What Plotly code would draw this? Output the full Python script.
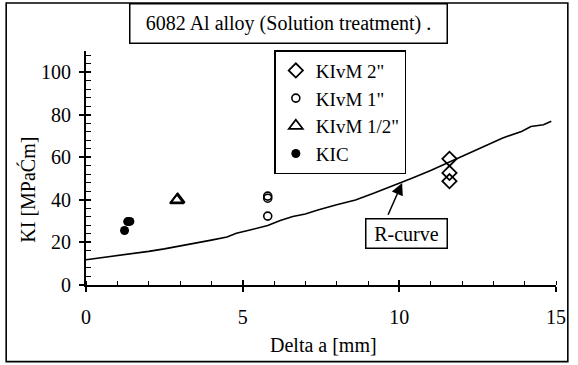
import plotly.graph_objects as go

# Data
rcurve_x = [0, 0.5, 1, 1.5, 2, 2.5, 3, 3.5, 4, 4.5, 4.8, 5.2, 5.8, 6.2, 6.6, 7, 7.4, 8,
            8.6, 9.2, 9.8, 10.4, 11, 11.6, 12.2, 12.8, 13.3, 13.9, 14.2, 14.6, 14.85]
rcurve_y = [11.9, 12.8, 13.8, 14.7, 15.8, 17, 18.3, 19.7, 21.1, 22.6, 24.3, 25.7, 28, 30.3,
            32.2, 33.4, 35.3, 37.7, 40, 43.2, 46.6, 50.2, 53.8, 57.8, 61.8, 65.8, 69.1,
            72.2, 74.5, 75.3, 77]

kivm2_x = [11.6, 11.6, 11.6]
kivm2_y = [59.3, 52.7, 48.8]
kivm1_x = [5.8, 5.8, 5.8]
kivm1_y = [41.8, 40.8, 32.4]
kivm12_x = [2.9, 2.93]
kivm12_y = [39.8, 40.2]
kic_x = [1.23, 1.33, 1.4]
kic_y = [25.6, 29.8, 29.9]

title_text = "6082 Al alloy (Solution treatment) ."
x_title = "Delta a [mm]"
y_title = "KI [MPaĆm]"
x_ticks = [0, 5, 10, 15]
y_ticks = [0, 20, 40, 60, 80, 100]

FONT = "Liberation Serif"
FS = 20

fig = go.Figure()
fig.add_trace(go.Scatter(x=rcurve_x, y=rcurve_y, mode="lines",
                         line=dict(color="black", width=1.6), showlegend=False))
fig.add_trace(go.Scatter(x=kivm2_x, y=kivm2_y, mode="markers", name='KIvM 2"',
                         marker=dict(symbol="diamond-open", size=11, color="black",
                                     line=dict(width=1.8, color="black"))))
fig.add_trace(go.Scatter(x=kivm1_x, y=kivm1_y, mode="markers", name='KIvM 1"',
                         marker=dict(symbol="circle-open", size=8, color="black",
                                     line=dict(width=1.6, color="black"))))
fig.add_trace(go.Scatter(x=kivm12_x, y=kivm12_y, mode="markers", name='KIvM 1/2"',
                         marker=dict(symbol="triangle-up-open", size=12, color="black",
                                     line=dict(width=1.8, color="black"))))
fig.add_trace(go.Scatter(x=kic_x, y=kic_y, mode="markers", name="KIC",
                         marker=dict(symbol="circle", size=9, color="black")))
# helper trace for overlay axes (crossing major ticks)
fig.add_trace(go.Scatter(x=[0], y=[0], xaxis="x2", yaxis="y2", mode="markers",
                         marker=dict(opacity=0), showlegend=False, hoverinfo="skip"))

axis_common = dict(showgrid=False, zeroline=False, linecolor="black", linewidth=1.8,
                   tickcolor="black", tickwidth=1.6, tickfont=dict(family=FONT, size=FS, color="black"))

fig.update_layout(
    width=578, height=365,
    margin=dict(l=86, r=15, t=51, b=80),
    plot_bgcolor="white", paper_bgcolor="white",
    font=dict(family=FONT, size=FS, color="black"),
    xaxis=dict(range=[0, 15], tickvals=x_ticks, ticks="outside", ticklen=5, showline=True,
               ticklabelstandoff=8,
               minor=dict(ticks="inside", dtick=1, ticklen=4, tickcolor="black", tickwidth=1.4),
               **axis_common),
    yaxis=dict(range=[0, 110], tickvals=y_ticks, ticks="outside", ticklen=5, showline=True,
               ticklabelstandoff=4,
               minor=dict(ticks="inside", dtick=4, ticklen=5, tickcolor="black", tickwidth=1.4),
               **axis_common),
    xaxis2=dict(range=[0, 15], overlaying="x", anchor="y", tickvals=x_ticks, ticks="inside",
                ticklen=5, tickcolor="black", tickwidth=1.6, showticklabels=False,
                showline=False, showgrid=False, zeroline=False),
    yaxis2=dict(range=[0, 110], overlaying="y", anchor="x", tickvals=y_ticks, ticks="inside",
                ticklen=5, tickcolor="black", tickwidth=1.6, showticklabels=False,
                showline=False, showgrid=False, zeroline=False),
    legend=dict(x=0.4007, y=1.004, xanchor="left", yanchor="top", bgcolor="white",
                bordercolor="black", borderwidth=1.5, font=dict(family=FONT, size=19),
                itemwidth=30, tracegroupgap=0),
    showlegend=True,
)

# outer frame
fig.add_shape(type="rect", xref="paper", yref="paper",
              x0=(5 - 86) / 477, x1=(575 - 86) / 477,
              y0=(285.3 - 362) / 234.3, y1=(285.3 - 3) / 234.3,
              line=dict(color="black", width=1.6), layer="below")

# title box
fig.add_annotation(text=title_text, xref="paper", yref="paper",
                   x=(292 - 86) / 477, y=(285.3 - 23) / 234.3, xanchor="center", yanchor="middle",
                   showarrow=False, font=dict(family=FONT, size=FS), bordercolor="black",
                   borderwidth=1.5, borderpad=0, bgcolor="white", width=316, height=38)

# axis titles
fig.add_annotation(text=x_title, xref="paper", yref="paper", x=(327.5 - 86) / 477,
                   y=(285.3 - 345) / 234.3, xanchor="center", yanchor="middle",
                   showarrow=False, font=dict(family=FONT, size=FS))
fig.add_annotation(text=y_title, xref="paper", yref="paper", x=(27 - 86) / 477,
                   y=(285.3 - 190) / 234.3, xanchor="center", yanchor="middle", textangle=-90,
                   showarrow=False, font=dict(family=FONT, size=FS))

# R-curve label and arrow
fig.add_annotation(text="", x=10.09, y=48.0, ax=9.62, ay=32.3, axref="x", ayref="y",
                   showarrow=True, arrowhead=2, arrowsize=1.6, arrowwidth=1.5, arrowcolor="black")
fig.add_annotation(text="R-curve", xref="paper", yref="paper", x=(411 - 86) / 477,
                   y=(285.3 - 233.3) / 234.3, xanchor="center", yanchor="middle",
                   showarrow=False, font=dict(family=FONT, size=FS), bordercolor="black",
                   borderwidth=1.5, borderpad=0, bgcolor="white", width=80, height=28)

fig.write_html("out.html")
